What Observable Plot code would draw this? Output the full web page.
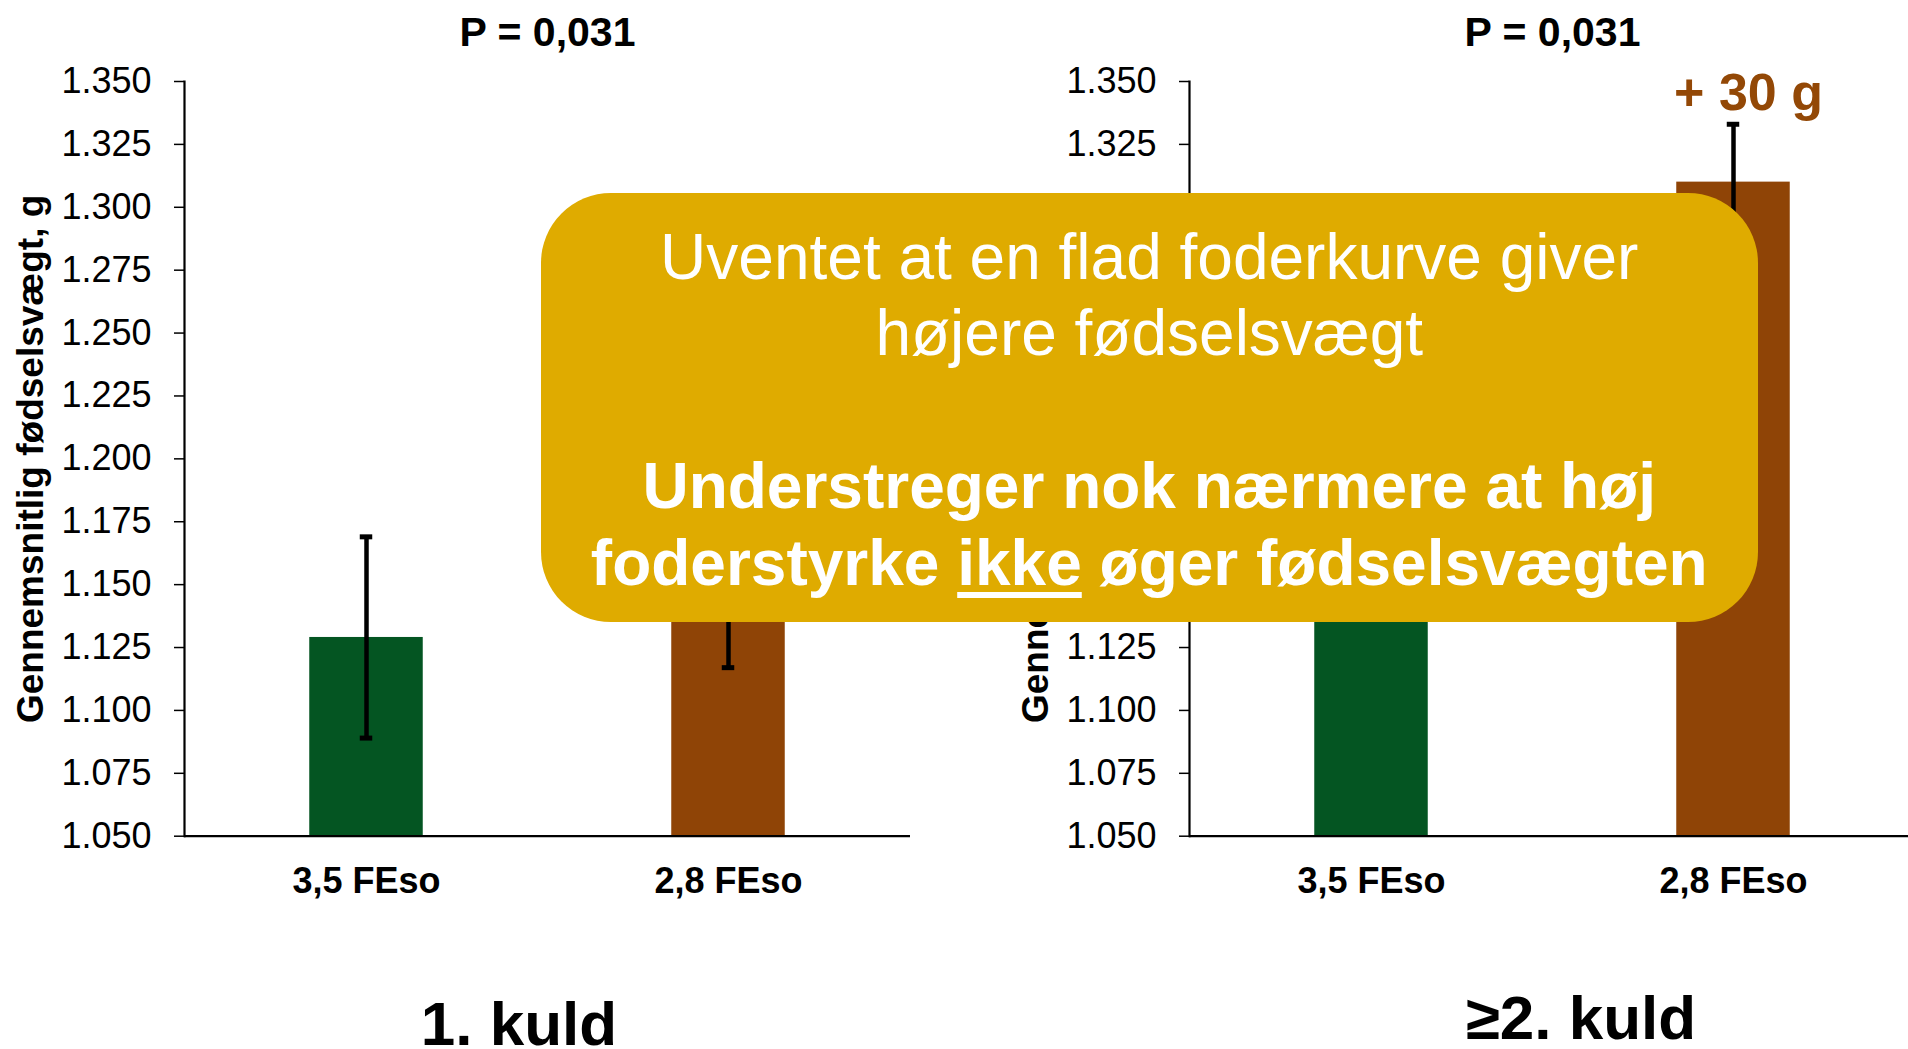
<!DOCTYPE html>
<html>
<head>
<meta charset="utf-8">
<script src="https://cdn.jsdelivr.net/npm/d3@7"></script>
<script src="https://cdn.jsdelivr.net/npm/@observablehq/plot@0.6"></script>
<style>
  html, body { margin: 0; padding: 0; background: #fff; }
  #stage { position: relative; width: 1908px; height: 1049px; overflow: hidden;
           font-family: "Liberation Sans", Arial, sans-serif; color: #000; }
  .panel { position: absolute; top: 0; }
  .kuld { position: absolute; width: 400px; text-align: center; font-weight: bold;
          font-size: 62px; line-height: 62px; white-space: nowrap; }
  #box { position: absolute; left: 540.5px; top: 193px; width: 1217.5px; height: 429px;
         box-sizing: border-box; padding-top: 25.6px; border-radius: 70px; background: #DFAB00;
         color: #fff; font-size: 64px; line-height: 76.5px; text-align: center; white-space: nowrap; }
  #box .b { font-weight: bold; }
  #box u { text-decoration-thickness: 6px; text-underline-offset: 7px; }
</style>
</head>
<body>
<div id="stage"></div>
<script>
// ---- data ----
const categories = ["3,5 FEso", "2,8 FEso"];
const barColors = ["#045522", "#8F4406"];
const kuld1Means = [1129, 1157];
const kuld1Errors = [40, 40];
const kuld2Means = [1280, 1310];
const kuld2Errors = [20, 23];
const yTicks = [1050, 1075, 1100, 1125, 1150, 1175, 1200, 1225, 1250, 1275, 1300, 1325, 1350];
const pLabels = ["P = 0,031", "P = 0,031"];
const panelLabels = ["1. kuld", "\u22652. kuld"];
const diffLabel = "+ 30 g";
const yLabel = "Gennemsnitlig fødselsvægt, g";
const boxLines = ["Uventet at en flad foderkurve giver", "højere fødselsvægt"];
const boxBold = ["Understreger nok nærmere at høj", ["foderstyrke ", "ikke", " øger fødselsvægten"]];

const fmt = d3.formatLocale({decimal: ",", thousands: ".", grouping: [3], currency: ["", ""]}).format(",d");
const FONT = '"Liberation Sans", Arial, sans-serif';

function makePanel(means, errors, pLabel, withDiff) {
  const data = categories.map((c, i) => ({cat: c, mean: means[i], lo: means[i] - errors[i], hi: means[i] + errors[i]}));
  const marks = [
    Plot.barY(data, {x: "cat", y1: 1050, y2: "mean", fill: "cat"}),
    Plot.ruleX(data, {x: "cat", y1: "lo", y2: "hi", stroke: "#000", strokeWidth: 4.5}),
    Plot.tickY(data, {x: "cat", y: "hi", stroke: "#000", strokeWidth: 5, insetLeft: 50.5, insetRight: 50.5}),
    Plot.tickY(data, {x: "cat", y: "lo", stroke: "#000", strokeWidth: 5, insetLeft: 50.5, insetRight: 50.5}),
    Plot.axisY({ticks: yTicks, tickFormat: fmt, tickSize: 10, tickPadding: 23, fontSize: 36, label: null, strokeWidth: 1.5}),
    Plot.axisX({tickSize: 0, tickPadding: 31.5, fontSize: 36, fontWeight: "bold", label: null}),
    Plot.frame({anchor: "left", strokeWidth: 2.2}),
    Plot.ruleY([1050], {strokeWidth: 2.2}),
    Plot.text([pLabel], {frameAnchor: "top", lineAnchor: "bottom", dy: -36, fontSize: 41, fontWeight: "bold"}),
    Plot.text([yLabel], {frameAnchor: "left", textAnchor: "middle", lineAnchor: "middle", rotate: -90,
      dx: -153.3, fontSize: 37, fontWeight: "bold"})
  ];
  if (withDiff) {
    marks.push(Plot.text(data.slice(1), {x: "cat", y: "hi", text: () => diffLabel, lineAnchor: "bottom",
      dy: -14.7, dx: 15, fontSize: 52, fontWeight: "bold", fill: "#934806"}));
  }
  return Plot.plot({
    width: 950, height: 1049,
    marginLeft: 184, marginRight: 40, marginTop: 81, marginBottom: 213.3,
    style: {fontFamily: FONT, background: "transparent", color: "#000", overflow: "visible"},
    x: {domain: categories, paddingInner: 0.6865, paddingOuter: 0.346, round: false},
    y: {domain: [1050, 1350]},
    color: {domain: categories, range: barColors},
    marks
  });
}

const stage = document.getElementById("stage");
const p1 = makePanel(kuld1Means, kuld1Errors, pLabels[0], false);
p1.classList.add("panel"); p1.style.left = "0px"; p1.style.maxWidth = "none";
const p2 = makePanel(kuld2Means, kuld2Errors, pLabels[1], true);
p2.classList.add("panel"); p2.style.left = "1005px"; p2.style.maxWidth = "none";
stage.appendChild(p1);
stage.appendChild(p2);

const k1 = document.createElement("div");
k1.className = "kuld"; k1.textContent = panelLabels[0];
k1.style.left = (519 - 200) + "px"; k1.style.top = "992.5px";
const k2 = document.createElement("div");
k2.className = "kuld"; k2.textContent = panelLabels[1];
k2.style.left = (1581 - 200) + "px"; k2.style.top = "986.5px";
stage.appendChild(k1); stage.appendChild(k2);

const box = document.createElement("div");
box.id = "box";
boxLines.forEach(t => { const d = document.createElement("div"); d.textContent = t; box.appendChild(d); });
const blank = document.createElement("div"); blank.innerHTML = "&nbsp;"; box.appendChild(blank);
const b1 = document.createElement("div"); b1.className = "b"; b1.textContent = boxBold[0]; box.appendChild(b1);
const b2 = document.createElement("div"); b2.className = "b";
b2.appendChild(document.createTextNode(boxBold[1][0]));
const u = document.createElement("u"); u.textContent = boxBold[1][1]; b2.appendChild(u);
b2.appendChild(document.createTextNode(boxBold[1][2]));
box.appendChild(b2);
stage.appendChild(box);
</script>
</body>
</html>
